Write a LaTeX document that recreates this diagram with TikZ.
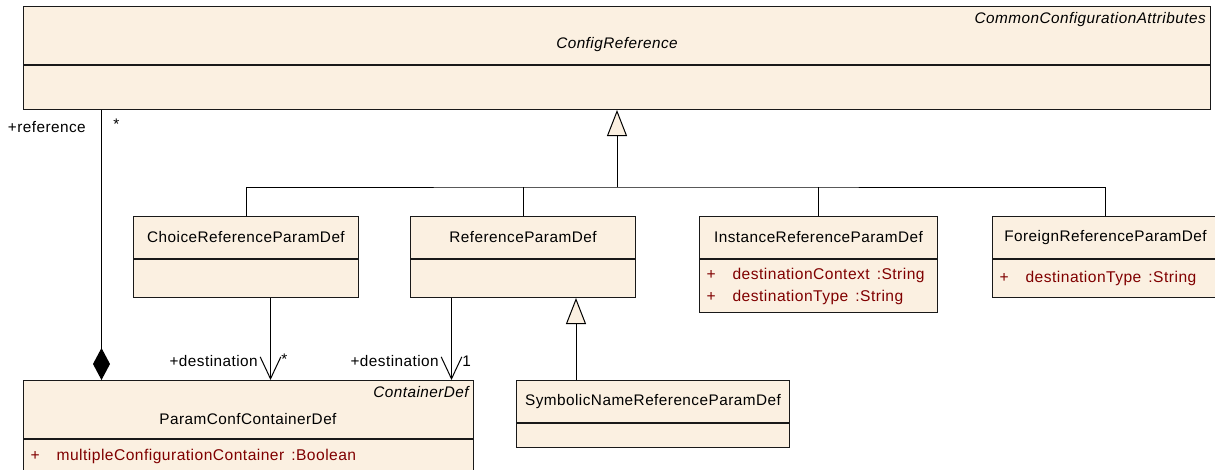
\documentclass[tikz,border=0pt]{standalone}
\usepackage{fontspec}
\setmainfont{Liberation Sans}[LetterSpace=3]
\usetikzlibrary{arrows.meta}
\definecolor{umlfill}{RGB}{251,240,225}
\definecolor{umlattr}{RGB}{128,0,0}
\newlength\px \setlength\px{0.75pt}
\tikzset{
  umlhead/.style={draw=black!90,fill=umlfill,line width=1\px,inner sep=0pt,anchor=north west,font=\fontsize{11.5}{13}\selectfont},
  umlbody/.style={umlhead,anchor=north west,align=left,text=umlattr,font=\fontsize{11.7}{16.5}\selectfont},
  umlline/.style={line width=1\px,black},
  genarrow/.style={umlline,-{Triangle[length=19.5pt,width=15pt,fill=umlfill]}},
  navarrow/.style={umlline,-{Straight Barb[length=16.5pt,width=15.5pt]}},
  comparrow/.style={umlline,{Diamond[length=24pt,width=12.75pt]}-},
  rolelabel/.style={inner sep=1\px,font=\fontsize{11.5}{13}\selectfont},
}
\begin{document}
\begin{tikzpicture}[x=1\px,y=-1\px,line join=miter]
	\useasboundingbox (0,0) rectangle (1215,469) ;
	% classes
	\node[umlhead,minimum width=1187\px,minimum height=58\px] (cfg) at (23,6) {} ;
	\node[umlbody,minimum width=1187\px,minimum height=44\px] (cfgAtt) at (cfg.south west) {} ;
	\node[anchor=east,inner sep=0pt,font=\fontsize{11.5}{13}\itshape] (cfgSt) at (1206,20) {CommonConfigurationAttributes} ;
	\node[inner sep=0pt,font=\fontsize{11.5}{13}\itshape] (cfgName) at (617,45) {ConfigReference} ;
	\node[umlhead,minimum width=225\px,minimum height=42\px] (choice) at (133,216) {ChoiceReferenceParamDef} ;
	\node[umlbody,minimum width=225\px,minimum height=38\px] (choiceAtt) at (choice.south west) {} ;
	\node[umlhead,minimum width=225\px,minimum height=42\px] (ref) at (410,216) {ReferenceParamDef} ;
	\node[umlbody,minimum width=225\px,minimum height=38\px] (refAtt) at (ref.south west) {} ;
	\node[umlhead,minimum width=238\px,minimum height=42\px] (inst) at (699,216) {InstanceReferenceParamDef} ;
	\node[umlbody,minimum width=238\px,minimum height=53\px,text width=224\px,inner xsep=7\px] (instAtt) at (inst.south west)
		{+\hspace{17\px}destinationContext\hspace{7\px}:String\\+\hspace{17\px}destinationType\hspace{7\px}:String} ;
	\node[umlhead,minimum width=226\px,minimum height=42\px] (foreign) at (992,216) {ForeignReferenceParamDef} ;
	\node[umlbody,minimum width=226\px,minimum height=38\px,text width=212\px,inner xsep=7\px] (foreignAtt) at (foreign.south west)
		{+\hspace{17\px}destinationType\hspace{7\px}:String} ;
	\node[umlhead,minimum width=450\px,minimum height=58\px] (pcc) at (23,380) {} ;
	\node[inner sep=0pt,font=\fontsize{11.5}{13}\itshape,anchor=east] (pccSt) at (469,392) {ContainerDef} ;
	\node[inner sep=0pt,font=\fontsize{11.5}{13}\selectfont] (pccName) at (248,419) {ParamConfContainerDef} ;
	\node[umlbody,minimum width=450\px,minimum height=34\px,text width=436\px,inner xsep=7\px] (pccAtt) at (pcc.south west)
		{+\hspace{17\px}multipleConfigurationContainer\hspace{7\px}:Boolean} ;
	\node[umlhead,minimum width=273\px,minimum height=42\px] (sym) at (516,380) {SymbolicNameReferenceParamDef} ;
	\node[umlbody,minimum width=273\px,minimum height=24\px] (symAtt) at (sym.south west) {} ;
	% generalizations
	\coordinate (junc) at (617,187) ;
	\draw[genarrow] (junc) -- (junc |- cfgAtt.south) ;
	\draw[umlline] (choice.north) |- (junc) -| (foreign.north) (ref.north) -- (ref.north |- junc) (inst.north) -- (inst.north |- junc) ;
	\coordinate (symGen) at ([xshift=53\px]refAtt.south) ;
	\draw[genarrow] (symGen |- sym.north) -- (symGen) ;
	% associations
	\coordinate (cmp) at ([xshift=-147\px]pcc.north) ;
	\draw[comparrow] (cmp) -- (cmp |- cfgAtt.south) ;
	\node[rolelabel,anchor=east] (refRole) at (87,127) {+reference} ;
	\node[rolelabel,anchor=west] (refMult) at (112,124) {*} ;
	\coordinate (dst1) at ([xshift=24.5\px]choiceAtt.south) ;
	\draw[navarrow] (dst1) -- (dst1 |- pcc.north) ;
	\node[rolelabel,anchor=east] (dst1Role) at (259,361) {+destination} ;
	\node[rolelabel,anchor=west] (dst1Mult) at (280,359) {*} ;
	\coordinate (dst2) at ([xshift=-71.5\px]refAtt.south) ;
	\draw[navarrow] (dst2) -- (dst2 |- pcc.north) ;
	\node[rolelabel,anchor=east] (dst2Role) at (440,361) {+destination} ;
	\node[rolelabel,anchor=west] (dst2Mult) at (461,361) {1} ;
\end{tikzpicture}
\end{document}
